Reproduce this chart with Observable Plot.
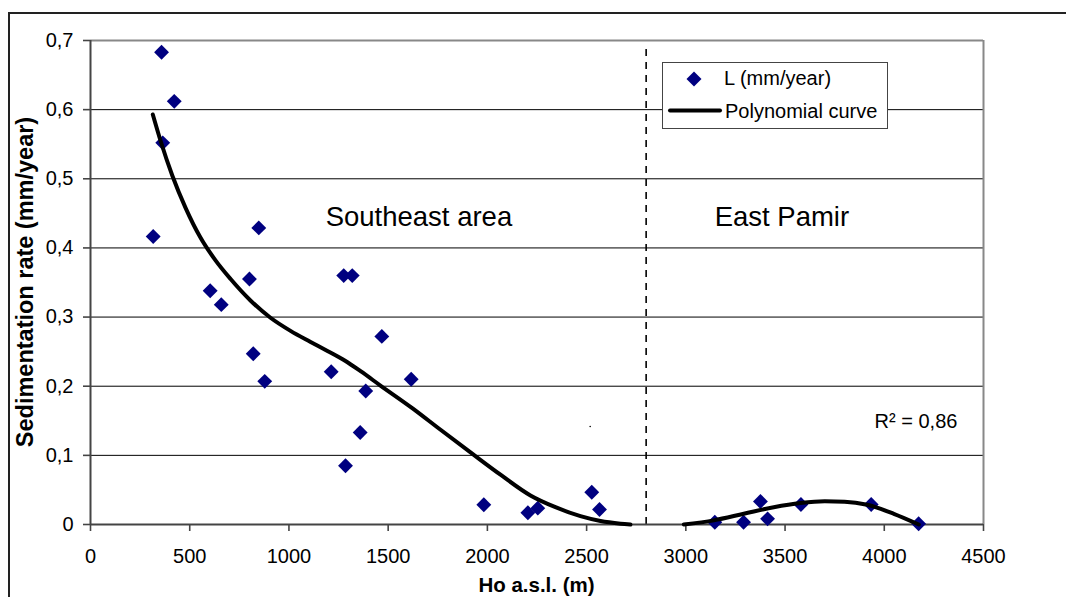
<!DOCTYPE html>
<html>
<head>
<meta charset="utf-8">
<script src="https://cdn.jsdelivr.net/npm/d3@7"></script>
<script src="https://cdn.jsdelivr.net/npm/@observablehq/plot@0.6"></script>
<style>
  html, body { margin: 0; padding: 0; background: #fff; }
  #wrap { position: relative; width: 1066px; height: 597px; overflow: hidden; font-family: "Liberation Sans", Arial, sans-serif; color: #000; }
  #outer { position: absolute; left: 8px; top: 12px; width: 1200px; height: 800px; border: 2px solid #222; box-sizing: border-box; }
  #chart { position: absolute; left: 0; top: 0; }
  .title { position: absolute; font-weight: bold; line-height: 1; white-space: nowrap; }
  #ytitle { font-size: 23.5px; left: 25.5px; top: 282px; transform: translate(-50%, -50%) rotate(-90deg); }
  #xtitle { font-size: 20.5px; left: 536.5px; top: 575px; transform: translateX(-50%); }
  #legend { position: absolute; left: 662px; top: 62px; }
</style>
</head>
<body>
<div id="wrap">
  <div id="outer"></div>
  <div id="chart"></div>
  <div class="title" id="ytitle">Sedimentation rate (mm/year)</div>
  <div class="title" id="xtitle">Ho a.s.l. (m)</div>
  <svg id="legend" width="226" height="67">
    <rect x="0.5" y="0.5" width="225" height="66" fill="#fff" stroke="#444" stroke-width="1"></rect>
    <path d="M32,9.5 L39.5,17 L32,24.5 L24.5,17 Z" fill="#000080"></path>
    <text x="62" y="23" font-size="20" font-family="Liberation Sans, Arial, sans-serif">L (mm/year)</text>
    <line x1="8" x2="58" y1="48.5" y2="48.5" stroke="#000" stroke-width="4" stroke-linecap="round"></line>
    <text x="63" y="56" font-size="20" font-family="Liberation Sans, Arial, sans-serif">Polynomial curve</text>
  </svg>
</div>
<script>
// ---- Data ----
const elevation = [358, 422, 364, 316, 848, 603, 659, 801, 820, 878,
                   1276, 1319, 1213, 1468, 1387, 1359, 1285, 1616,
                   1982, 2204, 2254, 2526, 2565,
                   3146, 3291, 3376, 3412, 3580, 3934, 4173];
const rate = [0.683, 0.612, 0.552, 0.4165, 0.429, 0.338, 0.318, 0.355, 0.247, 0.207,
              0.360, 0.360, 0.221, 0.272, 0.193, 0.133, 0.085, 0.210,
              0.0285, 0.017, 0.0236, 0.0467, 0.0217,
              0.0033, 0.0033, 0.0333, 0.0082, 0.029, 0.029, 0.001];

// Polynomial trend curve (visible parts)
const curveSE_x = [314, 353, 413, 479, 554, 630, 706, 806, 907, 1008, 1109, 1194, 1285, 1361, 1461, 1623, 1764, 1930, 2066, 2217, 2343, 2469, 2570, 2671, 2721];
const curveSE_y = [0.593, 0.555, 0.504, 0.458, 0.415, 0.382, 0.355, 0.324, 0.299, 0.280, 0.264, 0.251, 0.2365, 0.2217, 0.201, 0.168, 0.137, 0.101, 0.072, 0.042, 0.025, 0.012, 0.005, 0.0012, 0.000];
const curveEP_x = [2990, 3141, 3292, 3443, 3578, 3700, 3800, 3914, 4048, 4174];
const curveEP_y = [0.000, 0.006, 0.0155, 0.025, 0.031, 0.0335, 0.033, 0.0285, 0.0155, 0.000];

// Divider between the areas
const dividerX = [2800];
const dividerTop = 0.693;

// Annotations
const regionLabels = ["Southeast area", "East Pamir"];
const regionX = [1655, 3484];
const regionY = [0.445, 0.445];
const r2Label = ["R\u00B2 = 0,86"];
const r2X = [3951];
const r2Y = [0.149];

// stray dot in the reference
const strayX = [2518];
const strayY = [0.1417];

// Axes
const xTicks = [0, 500, 1000, 1500, 2000, 2500, 3000, 3500, 4000, 4500];
const xTickLabels = ["0", "500", "1000", "1500", "2000", "2500", "3000", "3500", "4000", "4500"];
const yTicks = [0, 0.1, 0.2, 0.3, 0.4, 0.5, 0.6, 0.7];
const yTickLabels = ["0", "0,1", "0,2", "0,3", "0,4", "0,5", "0,6", "0,7"];
const yGrid = [0.1, 0.2, 0.3, 0.4, 0.5, 0.6];

// ---- Build tables ----
const points = elevation.map((x, i) => ({x, y: rate[i]}));
const curveSE = curveSE_x.map((x, i) => ({x, y: curveSE_y[i]}));
const curveEP = curveEP_x.map((x, i) => ({x, y: curveEP_y[i]}));
const regions = regionLabels.map((t, i) => ({t, x: regionX[i], y: regionY[i]}));
const r2 = r2Label.map((t, i) => ({t, x: r2X[i], y: r2Y[i]}));
const stray = strayX.map((x, i) => ({x, y: strayY[i]}));

const chart = Plot.plot({
  width: 1066,
  height: 597,
  marginLeft: 90,
  marginRight: 83,
  marginTop: 40,
  marginBottom: 73,
  style: {fontFamily: "'Liberation Sans', Arial, sans-serif", fontSize: "20px", color: "#000", background: "transparent", overflow: "visible"},
  x: {domain: [0, 4500]},
  y: {domain: [0, 0.7]},
  marks: [
    Plot.ruleY(yGrid, {stroke: "#000", strokeWidth: 1}),
    Plot.ruleY([0.7], {stroke: "#888", strokeWidth: 2}),
    Plot.ruleX([4500], {stroke: "#888", strokeWidth: 2}),
    Plot.ruleX(dividerX, {y1: 0, y2: dividerTop, stroke: "#000", strokeWidth: 1.6, strokeDasharray: "7,6"}),
    Plot.axisX({ticks: xTicks, tickFormat: (d) => xTickLabels[xTicks.indexOf(d)], tickSize: 7, tickPadding: 17, stroke: "#444", strokeWidth: 1.6, fontSize: 20, label: null}),
    Plot.axisY({ticks: yTicks, tickFormat: (d) => yTickLabels[yTicks.indexOf(d)], tickSize: 7, tickPadding: 10, stroke: "#444", strokeWidth: 1.6, fontSize: 20, label: null}),
    Plot.ruleX([0], {stroke: "#444", strokeWidth: 2}),
    Plot.ruleY([0], {stroke: "#444", strokeWidth: 2}),
    Plot.dot(stray, {x: "x", y: "y", r: 0.8, fill: "#000"}),
    Plot.text(regions, {x: "x", y: "y", text: "t", fontSize: 27.5, textAnchor: "middle"}),
    Plot.text(r2, {x: "x", y: "y", text: "t", fontSize: 20, textAnchor: "start"}),
    Plot.dot(points, {x: "x", y: "y", symbol: "diamond2", r: 6.7, fill: "#000080", stroke: "none"}),
    Plot.line(curveSE, {x: "x", y: "y", curve: "monotone-x", stroke: "#000", strokeWidth: 4, strokeLinecap: "round"}),
    Plot.line(curveEP, {x: "x", y: "y", curve: "monotone-x", stroke: "#000", strokeWidth: 4, strokeLinecap: "round"})
  ]
});
document.getElementById("chart").appendChild(chart);
</script>
</body>
</html>
